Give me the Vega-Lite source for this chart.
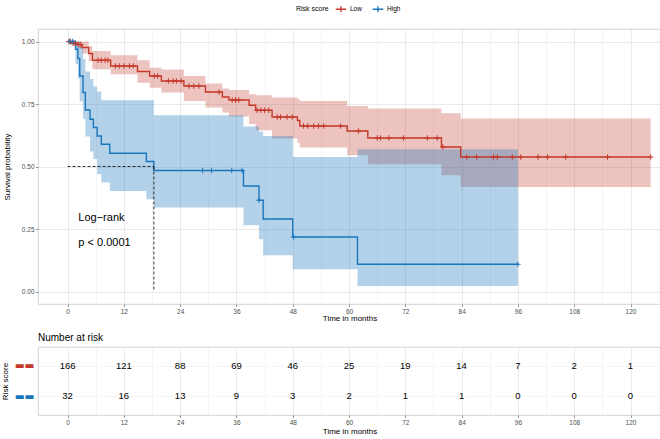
{
  "$schema": "https://vega.github.io/schema/vega-lite/v6.json",
  "background": "white",
  "padding": {"left": 0, "top": 3, "right": 0, "bottom": 1},
  "spacing": 9,
  "config": {
    "font": "Liberation Sans",
    "view": {"stroke": "#c8c8c8", "strokeWidth": 0.8},
    "axis": {
      "labelFont": "Liberation Sans", "titleFont": "Liberation Sans",
      "labelFontSize": 6.5, "labelColor": "#4d4d4d",
      "titleFontSize": 8, "titleFontWeight": "normal", "titleColor": "#000000",
      "domain": false, "tickColor": "#4d4d4d", "tickSize": 2.5, "tickWidth": 0.6,
      "gridColor": "#dedede", "gridWidth": 0.6, "labelPadding": 1.5,
      "labelOverlap": false, "labelFlush": false
    },
    "title": {"font": "Liberation Sans"}
  },
  "datasets": {
    "km": [
      {"g": "Low", "t": 0, "s": 1.0, "lo": 1.0, "hi": 1.0},
      {"g": "Low", "t": 0.8, "s": 0.994, "lo": 0.983, "hi": 1.0},
      {"g": "Low", "t": 2.0, "s": 0.988, "lo": 0.972, "hi": 1.0},
      {"g": "Low", "t": 3.1, "s": 0.976, "lo": 0.952, "hi": 1.0},
      {"g": "Low", "t": 4.5, "s": 0.952, "lo": 0.922, "hi": 0.982},
      {"g": "Low", "t": 5.3, "s": 0.925, "lo": 0.889, "hi": 0.962},
      {"g": "Low", "t": 9.2, "s": 0.902, "lo": 0.869, "hi": 0.945},
      {"g": "Low", "t": 14.9, "s": 0.880, "lo": 0.835, "hi": 0.925},
      {"g": "Low", "t": 17.5, "s": 0.862, "lo": 0.815, "hi": 0.895},
      {"g": "Low", "t": 20.0, "s": 0.842, "lo": 0.796, "hi": 0.888},
      {"g": "Low", "t": 24.8, "s": 0.822, "lo": 0.762, "hi": 0.862},
      {"g": "Low", "t": 29.4, "s": 0.798, "lo": 0.736, "hi": 0.832},
      {"g": "Low", "t": 33.0, "s": 0.778, "lo": 0.716, "hi": 0.812},
      {"g": "Low", "t": 34.4, "s": 0.766, "lo": 0.700, "hi": 0.806},
      {"g": "Low", "t": 38.7, "s": 0.745, "lo": 0.670, "hi": 0.789},
      {"g": "Low", "t": 40.1, "s": 0.725, "lo": 0.645, "hi": 0.785},
      {"g": "Low", "t": 43.6, "s": 0.698, "lo": 0.612, "hi": 0.776},
      {"g": "Low", "t": 49.0, "s": 0.684, "lo": 0.595, "hi": 0.770},
      {"g": "Low", "t": 49.5, "s": 0.662, "lo": 0.576, "hi": 0.762},
      {"g": "Low", "t": 59.6, "s": 0.642, "lo": 0.545, "hi": 0.742},
      {"g": "Low", "t": 64.0, "s": 0.614, "lo": 0.509, "hi": 0.732},
      {"g": "Low", "t": 79.7, "s": 0.578, "lo": 0.465, "hi": 0.713},
      {"g": "Low", "t": 83.8, "s": 0.538, "lo": 0.418, "hi": 0.692},
      {"g": "Low", "t": 124.3, "s": 0.538, "lo": 0.418, "hi": 0.692},
      {"g": "High", "t": 0, "s": 1.0, "lo": 1.0, "hi": 1.0},
      {"g": "High", "t": 1.7, "s": 0.969, "lo": 0.91, "hi": 1.0},
      {"g": "High", "t": 2.2, "s": 0.932, "lo": 0.85, "hi": 1.0},
      {"g": "High", "t": 2.6, "s": 0.862, "lo": 0.76, "hi": 0.98},
      {"g": "High", "t": 3.3, "s": 0.796, "lo": 0.69, "hi": 0.93},
      {"g": "High", "t": 3.8, "s": 0.726, "lo": 0.62, "hi": 0.88},
      {"g": "High", "t": 4.8, "s": 0.689, "lo": 0.56, "hi": 0.85},
      {"g": "High", "t": 5.5, "s": 0.656, "lo": 0.53, "hi": 0.82},
      {"g": "High", "t": 6.3, "s": 0.622, "lo": 0.47, "hi": 0.80},
      {"g": "High", "t": 7.2, "s": 0.589, "lo": 0.436, "hi": 0.765},
      {"g": "High", "t": 9.0, "s": 0.553, "lo": 0.402, "hi": 0.765},
      {"g": "High", "t": 16.8, "s": 0.520, "lo": 0.369, "hi": 0.765},
      {"g": "High", "t": 18.4, "s": 0.484, "lo": 0.336, "hi": 0.705},
      {"g": "High", "t": 37.5, "s": 0.422, "lo": 0.265, "hi": 0.66},
      {"g": "High", "t": 40.8, "s": 0.365, "lo": 0.209, "hi": 0.64},
      {"g": "High", "t": 41.7, "s": 0.290, "lo": 0.145, "hi": 0.622},
      {"g": "High", "t": 48.0, "s": 0.218, "lo": 0.089, "hi": 0.538},
      {"g": "High", "t": 61.8, "s": 0.109, "lo": 0.022, "hi": 0.569},
      {"g": "High", "t": 96.0, "s": 0.109, "lo": 0.022, "hi": 0.569}
    ],
    "cens": [
      {"g": "Low", "t": 0.3, "s": 1.0}, {"g": "Low", "t": 0.6, "s": 1.0},
      {"g": "Low", "t": 1.2, "s": 0.994}, {"g": "Low", "t": 1.6, "s": 0.994},
      {"g": "Low", "t": 2.4, "s": 0.988}, {"g": "Low", "t": 2.8, "s": 0.988},
      {"g": "Low", "t": 6.5, "s": 0.925}, {"g": "Low", "t": 7.2, "s": 0.925},
      {"g": "Low", "t": 8.0, "s": 0.925}, {"g": "Low", "t": 8.6, "s": 0.925},
      {"g": "Low", "t": 10.2, "s": 0.902}, {"g": "Low", "t": 11.0, "s": 0.902},
      {"g": "Low", "t": 12.0, "s": 0.902}, {"g": "Low", "t": 13.2, "s": 0.902},
      {"g": "Low", "t": 14.0, "s": 0.902},
      {"g": "Low", "t": 18.5, "s": 0.862}, {"g": "Low", "t": 19.2, "s": 0.862},
      {"g": "Low", "t": 21.5, "s": 0.842}, {"g": "Low", "t": 22.5, "s": 0.842},
      {"g": "Low", "t": 23.2, "s": 0.842}, {"g": "Low", "t": 24.2, "s": 0.842},
      {"g": "Low", "t": 25.9, "s": 0.822}, {"g": "Low", "t": 26.9, "s": 0.822},
      {"g": "Low", "t": 28.0, "s": 0.822}, {"g": "Low", "t": 32.3, "s": 0.798},
      {"g": "Low", "t": 35.1, "s": 0.766}, {"g": "Low", "t": 35.8, "s": 0.766},
      {"g": "Low", "t": 36.5, "s": 0.766},
      {"g": "Low", "t": 40.4, "s": 0.725}, {"g": "Low", "t": 41.2, "s": 0.725},
      {"g": "Low", "t": 42.0, "s": 0.725}, {"g": "Low", "t": 42.9, "s": 0.725},
      {"g": "Low", "t": 44.7, "s": 0.698}, {"g": "Low", "t": 45.4, "s": 0.698},
      {"g": "Low", "t": 46.8, "s": 0.698}, {"g": "Low", "t": 47.9, "s": 0.698},
      {"g": "Low", "t": 50.3, "s": 0.662}, {"g": "Low", "t": 51.2, "s": 0.662},
      {"g": "Low", "t": 52.5, "s": 0.662}, {"g": "Low", "t": 53.5, "s": 0.662},
      {"g": "Low", "t": 54.6, "s": 0.662}, {"g": "Low", "t": 58.2, "s": 0.662},
      {"g": "Low", "t": 62.0, "s": 0.642},
      {"g": "Low", "t": 66.0, "s": 0.614}, {"g": "Low", "t": 66.7, "s": 0.614},
      {"g": "Low", "t": 68.5, "s": 0.614}, {"g": "Low", "t": 71.6, "s": 0.614},
      {"g": "Low", "t": 76.7, "s": 0.614}, {"g": "Low", "t": 78.8, "s": 0.614},
      {"g": "Low", "t": 80.0, "s": 0.578},
      {"g": "Low", "t": 85.1, "s": 0.538}, {"g": "Low", "t": 87.2, "s": 0.538},
      {"g": "Low", "t": 90.8, "s": 0.538}, {"g": "Low", "t": 91.6, "s": 0.538},
      {"g": "Low", "t": 94.8, "s": 0.538}, {"g": "Low", "t": 96.6, "s": 0.538},
      {"g": "Low", "t": 100.3, "s": 0.538}, {"g": "Low", "t": 102.3, "s": 0.538},
      {"g": "Low", "t": 106.2, "s": 0.538}, {"g": "Low", "t": 115.1, "s": 0.538},
      {"g": "Low", "t": 124.3, "s": 0.538},
      {"g": "High", "t": 0.5, "s": 1.0}, {"g": "High", "t": 1.1, "s": 1.0},
      {"g": "High", "t": 28.8, "s": 0.484}, {"g": "High", "t": 30.7, "s": 0.484},
      {"g": "High", "t": 35.0, "s": 0.484}, {"g": "High", "t": 37.2, "s": 0.484},
      {"g": "High", "t": 40.8, "s": 0.365}, {"g": "High", "t": 48.2, "s": 0.218},
      {"g": "High", "t": 96.0, "s": 0.109}
    ],
    "median": [
      {"x": 0, "y": 0.5, "x2": 18.4, "y2": 0.5},
      {"x": 18.4, "y": 0.5, "x2": 18.4, "y2": 0}
    ],
    "notes": [
      {"t": 2.3, "s": 0.294, "label": "Log−rank"},
      {"t": 2.3, "s": 0.194, "label": "p < 0.0001"}
    ],
    "risk": [
      {"g": "Low", "t": 0, "n": 166}, {"g": "Low", "t": 12, "n": 121},
      {"g": "Low", "t": 24, "n": 88}, {"g": "Low", "t": 36, "n": 69},
      {"g": "Low", "t": 48, "n": 46}, {"g": "Low", "t": 60, "n": 25},
      {"g": "Low", "t": 72, "n": 19}, {"g": "Low", "t": 84, "n": 14},
      {"g": "Low", "t": 96, "n": 7}, {"g": "Low", "t": 108, "n": 2},
      {"g": "Low", "t": 120, "n": 1},
      {"g": "High", "t": 0, "n": 32}, {"g": "High", "t": 12, "n": 16},
      {"g": "High", "t": 24, "n": 13}, {"g": "High", "t": 36, "n": 9},
      {"g": "High", "t": 48, "n": 3}, {"g": "High", "t": 60, "n": 2},
      {"g": "High", "t": 72, "n": 1}, {"g": "High", "t": 84, "n": 1},
      {"g": "High", "t": 96, "n": 0}, {"g": "High", "t": 108, "n": 0},
      {"g": "High", "t": 120, "n": 0}
    ]
  },
  "vconcat": [
    {
      "width": 623,
      "height": 275,
      "encoding": {
        "x": {
          "field": "t", "type": "quantitative", "title": "Time in months",
          "scale": {"domain": [-6.3, 126.5], "nice": false, "zero": false},
          "axis": {
            "values": [0, 6, 12, 18, 24, 30, 36, 42, 48, 54, 60, 66, 72, 78, 84, 90, 96, 102, 108, 114, 120, 126],
            "labelExpr": "datum.value % 12 == 0 ? datum.label : ''",
            "gridColor": {"condition": {"test": "datum.value % 12 != 0", "value": "#eeeeee"}, "value": "#dcdcdc"},
            "tickOpacity": {"condition": {"test": "datum.value % 12 != 0", "value": 0}, "value": 1},
            "titlePadding": 0
          }
        }
      },
      "layer": [
        {
          "data": {"name": "km"},
          "transform": [{"filter": "datum.g == 'Low'"}],
          "mark": {"type": "area", "interpolate": "step-after", "fillOpacity": 0.3},
          "encoding": {
            "y": {
              "field": "lo", "type": "quantitative", "title": "Survival probability",
              "scale": {"domain": [-0.05, 1.05], "nice": false, "zero": false},
              "axis": {
                "values": [0, 0.125, 0.25, 0.375, 0.5, 0.625, 0.75, 0.875, 1],
                "labelExpr": "(datum.value * 1000) % 250 == 0 ? format(datum.value, '.2f') : ''",
                "gridColor": {"condition": {"test": "(datum.value * 1000) % 250 != 0", "value": "#eeeeee"}, "value": "#dcdcdc"},
                "tickOpacity": {"condition": {"test": "(datum.value * 1000) % 250 != 0", "value": 0}, "value": 1},
                "minExtent": 24, "maxExtent": 24, "titlePadding": 3
              }
            },
            "y2": {"field": "hi"},
            "color": {
              "field": "g", "type": "nominal",
              "scale": {"domain": ["Low", "High"], "range": ["#C4392A", "#1976BC"]},
              "legend": {
                "title": "Risk score", "orient": "none", "legendX": 258, "legendY": -26,
                "direction": "horizontal", "titleOrient": "left",
                "titleFontSize": 7, "titleFontWeight": "normal", "titleColor": "#000000",
                "labelFontSize": 6.5, "labelColor": "#000000", "titlePadding": 6,
                "symbolType": "M-1,0H1M0,-0.55V0.55", "symbolSize": 110,
                "symbolStrokeWidth": 1.3, "columnPadding": 8, "labelOffset": 3,
                "encode": {"symbols": {"update": {"stroke": {"scale": "color", "field": "value"}, "fill": {"value": "transparent"}}}}
              }
            }
          }
        },
        {
          "data": {"name": "km"},
          "transform": [{"filter": "datum.g == 'High'"}],
          "mark": {"type": "area", "interpolate": "step-after", "fillOpacity": 0.33},
          "encoding": {
            "y": {"field": "lo", "type": "quantitative"},
            "y2": {"field": "hi"},
            "color": {"field": "g", "type": "nominal"}
          }
        },
        {
          "data": {"name": "km"},
          "mark": {"type": "line", "interpolate": "step-after", "strokeWidth": 1.4},
          "encoding": {
            "y": {"field": "s", "type": "quantitative"},
            "color": {"field": "g", "type": "nominal"},
            "detail": {"field": "g"}
          }
        },
        {
          "data": {"name": "cens"},
          "mark": {"type": "point", "shape": "M0,-1V1M-1,0H1", "size": 30, "filled": false, "strokeWidth": 1, "opacity": 1},
          "encoding": {
            "y": {"field": "s", "type": "quantitative"},
            "color": {"field": "g", "type": "nominal"}
          }
        },
        {
          "data": {"name": "median"},
          "mark": {"type": "rule", "color": "#000000", "strokeDash": [3, 2], "strokeWidth": 0.8},
          "encoding": {
            "x": {"field": "x", "type": "quantitative"},
            "x2": {"field": "x2"},
            "y": {"field": "y", "type": "quantitative"},
            "y2": {"field": "y2"}
          }
        },
        {
          "data": {"name": "notes"},
          "mark": {"type": "text", "align": "left", "baseline": "middle", "fontSize": 11, "color": "#000000"},
          "encoding": {
            "y": {"field": "s", "type": "quantitative"},
            "text": {"field": "label"}
          }
        }
      ]
    },
    {
      "width": 623,
      "height": 68,
      "title": {"text": "Number at risk", "anchor": "start", "frame": "group", "fontSize": 10, "fontWeight": "normal", "color": "#000000", "offset": 4},
      "data": {"name": "risk"},
      "mark": {"type": "text", "fontSize": 9.5, "color": "#000000"},
      "encoding": {
        "x": {
          "field": "t", "type": "quantitative", "title": "Time in months",
          "scale": {"domain": [-6.3, 126.5], "nice": false, "zero": false},
          "axis": {
            "values": [0, 6, 12, 18, 24, 30, 36, 42, 48, 54, 60, 66, 72, 78, 84, 90, 96, 102, 108, 114, 120, 126],
            "labelExpr": "datum.value % 12 == 0 ? datum.label : ''",
            "gridColor": {"condition": {"test": "datum.value % 12 != 0", "value": "#eeeeee"}, "value": "#dcdcdc"},
            "tickOpacity": {"condition": {"test": "datum.value % 12 != 0", "value": 0}, "value": 1},
            "titlePadding": 2
          }
        },
        "y": {
          "field": "g", "type": "nominal", "title": "Risk score",
          "scale": {"type": "point", "domain": ["Low", "High"], "padding": 0.6},
          "axis": {
            "labelExpr": "'▬▬'", "labelFont": "DejaVu Sans", "labelFontSize": 10.5,
            "labelColor": {"condition": {"test": "datum.value == 'Low'", "value": "#C4392A"}, "value": "#1976BC"},
            "tickSize": 0, "labelPadding": 4, "grid": true, "gridColor": "#eeeeee",
            "minExtent": 24, "maxExtent": 24, "titlePadding": 5
          }
        },
        "text": {"field": "n", "type": "quantitative"}
      }
    }
  ]
}
